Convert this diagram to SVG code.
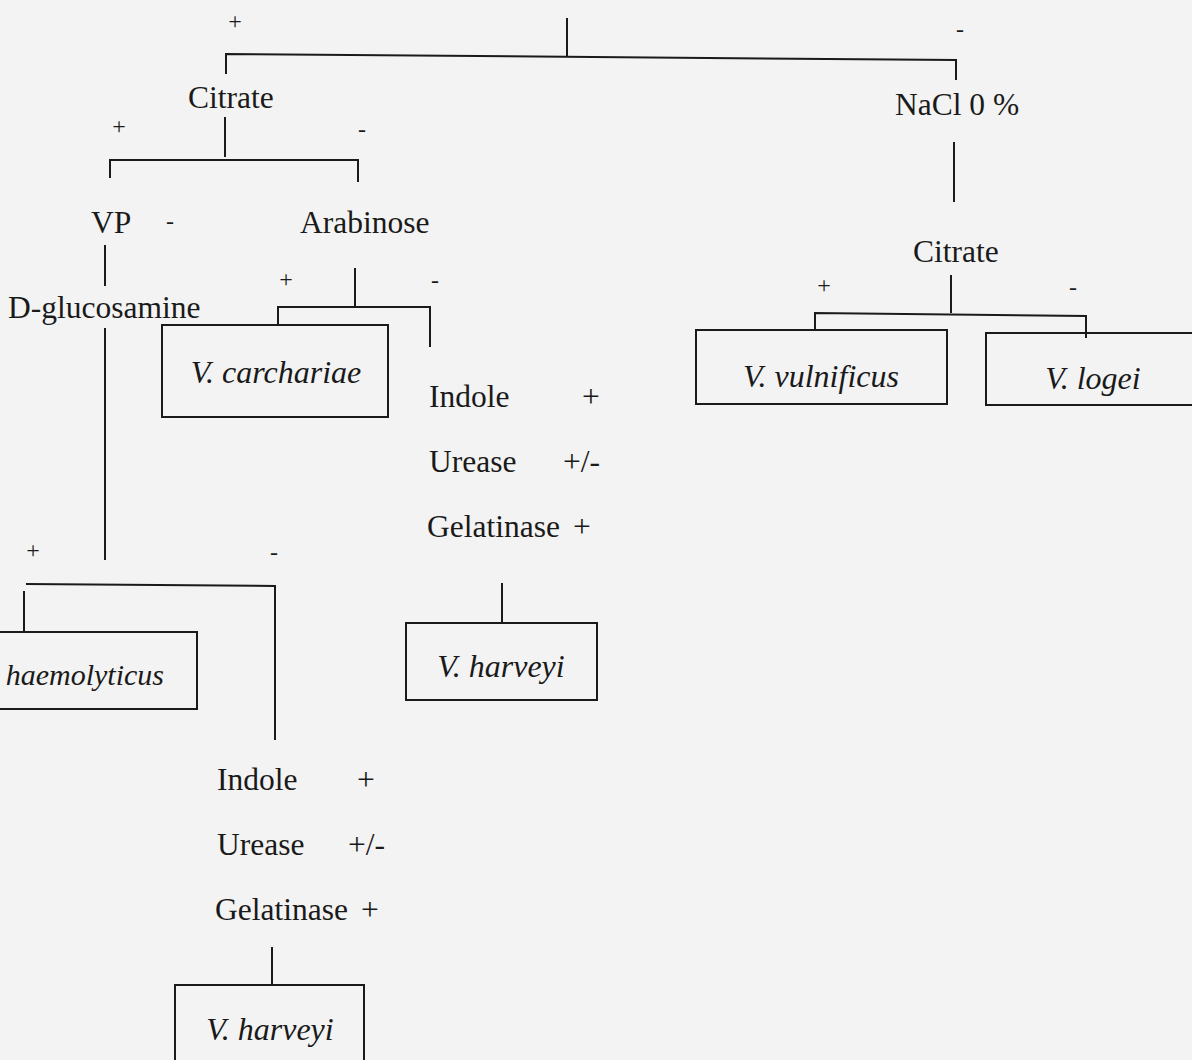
<svg xmlns="http://www.w3.org/2000/svg" width="1192" height="1060" viewBox="0 0 1192 1060">
<style>
.t{font-family:"Liberation Serif","Times New Roman",serif;font-size:31.5px;fill:#1a1a1a}
.i{font-style:italic;font-size:32px}
.s{font-family:"Liberation Serif","Times New Roman",serif;font-size:24px;fill:#1a1a1a}
.box{fill:none;stroke:#1a1a1a;stroke-width:2}
.ln{fill:none;stroke:#1a1a1a;stroke-width:2}
</style>
<rect x="0" y="0" width="1192" height="1060" fill="#f3f3f3"/>
<g id="connectors">
  <path class="ln" d="M567,18 V57"/>
  <path class="ln" d="M226,74 V54 L956,60 V80"/>
  <path class="ln" d="M225,117 V157"/>
  <path class="ln" d="M110,178 V160 H358 V182"/>
  <path class="ln" d="M105,245 V286"/>
  <path class="ln" d="M355,268 V307"/>
  <path class="ln" d="M278,325 V307 H430 V347"/>
  <path class="ln" d="M105,328 V560"/>
  <path class="ln" d="M26,584 L275,586 V740"/>
  <path class="ln" d="M24,591 V632"/>
  <path class="ln" d="M502,583 V623"/>
  <path class="ln" d="M272,947 V985"/>
  <path class="ln" d="M954,142 V202"/>
  <path class="ln" d="M951,275 V313"/>
  <path class="ln" d="M815,331 V313 L1086,316 V338"/>
  <text class="s" x="235" y="29" text-anchor="middle">+</text>
  <text class="s" x="960" y="37" text-anchor="middle">-</text>
  <text class="s" x="119" y="134" text-anchor="middle">+</text>
  <text class="s" x="362" y="137" text-anchor="middle">-</text>
  <text class="s" x="170" y="229" text-anchor="middle">-</text>
  <text class="s" x="286" y="287" text-anchor="middle">+</text>
  <text class="s" x="435" y="288" text-anchor="middle">-</text>
  <text class="s" x="33" y="558" text-anchor="middle">+</text>
  <text class="s" x="274" y="560" text-anchor="middle">-</text>
  <text class="s" x="824" y="293" text-anchor="middle">+</text>
  <text class="s" x="1073" y="295" text-anchor="middle">-</text>
</g>
<g id="citrate-1"><text class="t" x="188" y="108">Citrate</text></g>
<g id="nacl"><text class="t" x="895" y="115">NaCl 0 %</text></g>
<g id="vp"><text class="t" x="91" y="233">VP</text></g>
<g id="arabinose"><text class="t" x="300" y="233">Arabinose</text></g>
<g id="d-glucosamine"><text class="t" x="8" y="318">D-glucosamine</text></g>
<g id="citrate-2"><text class="t" x="913" y="262">Citrate</text></g>
<g id="v-carchariae">
  <rect class="box" x="162" y="325" width="226" height="92"/>
  <text class="t i" x="276" y="383" text-anchor="middle">V. carchariae</text>
</g>
<g id="tests-1">
  <text class="t" x="429" y="407">Indole</text>
  <text class="t" x="591" y="407" text-anchor="middle">+</text>
  <text class="t" x="429" y="472">Urease</text>
  <text class="t" x="563" y="472">+/-</text>
  <text class="t" x="427" y="537">Gelatinase</text>
  <text class="t" x="582" y="537" text-anchor="middle">+</text>
</g>
<g id="v-harveyi-1">
  <rect class="box" x="406" y="623" width="191" height="77"/>
  <text class="t i" x="501" y="677" text-anchor="middle">V. harveyi</text>
</g>
<g id="v-haemolyticus">
  <rect class="box" x="-10" y="632" width="207" height="77"/>
  <text class="t i" x="164" y="685" text-anchor="end" style="font-size:30px">haemolyticus</text>
</g>
<g id="tests-2">
  <text class="t" x="217" y="790">Indole</text>
  <text class="t" x="366" y="790" text-anchor="middle">+</text>
  <text class="t" x="348" y="855">+/-</text>
  <text class="t" x="217" y="855">Urease</text>
  <text class="t" x="215" y="920">Gelatinase</text>
  <text class="t" x="370" y="920" text-anchor="middle">+</text>
</g>
<g id="v-harveyi-2">
  <rect class="box" x="175" y="985" width="189" height="90"/>
  <text class="t i" x="270" y="1040" text-anchor="middle">V. harveyi</text>
</g>
<g id="v-vulnificus">
  <rect class="box" x="696" y="330" width="251" height="74"/>
  <text class="t i" x="821" y="387" text-anchor="middle">V. vulnificus</text>
</g>
<g id="v-logei">
  <rect class="box" x="986" y="333" width="220" height="72"/>
  <text class="t i" x="1093" y="389" text-anchor="middle">V. logei</text>
</g>
</svg>
